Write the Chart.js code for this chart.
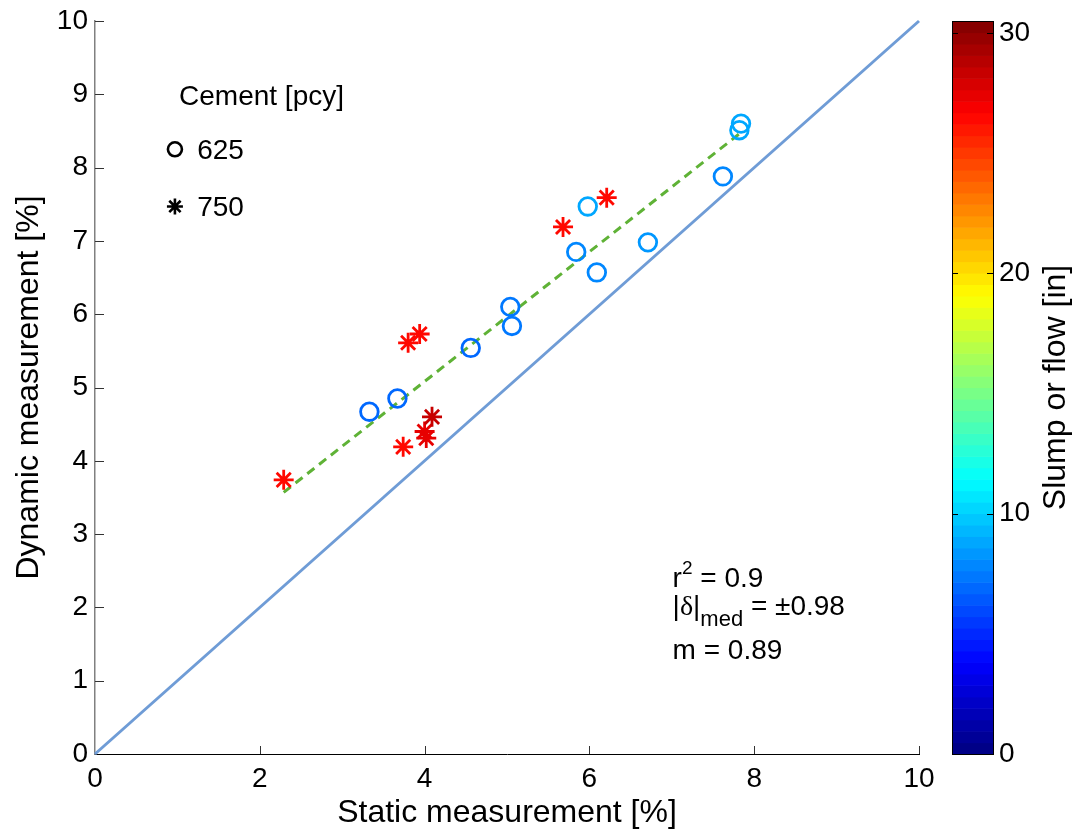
<!DOCTYPE html>
<html>
<head>
<meta charset="utf-8">
<script src="https://cdn.jsdelivr.net/npm/chart.js@4.4.0/dist/chart.umd.min.js"></script>
<style>
  html, body { margin: 0; padding: 0; background: #fff; }
  canvas { display: block; }
</style>
</head>
<body>
<canvas id="chart" width="1078" height="833"></canvas>
<script>
// cement 625 pcy (circles)
const staticC = [3.33, 3.67, 4.56, 5.04, 5.06, 5.84, 6.09, 5.98, 6.71, 7.62, 7.82, 7.84];
const dynamicC = [4.67, 4.85, 5.54, 6.10, 5.84, 6.85, 6.57, 7.47, 6.98, 7.88, 8.51, 8.60];
const slumpC = [7, 7, 7, 7.2, 7.2, 8, 8, 9, 8.3, 7.8, 8.7, 8.7];

// cement 750 pcy (stars)
const staticS = [2.29, 3.74, 4.00, 4.02, 4.09, 3.80, 3.94, 5.68, 6.21];
const dynamicS = [3.74, 4.19, 4.40, 4.31, 4.60, 5.61, 5.73, 7.19, 7.59];
const slumpS = [26.5, 26.5, 27.5, 27.5, 28.5, 26.5, 26.5, 26.5, 26.5];

// fit line and 1:1 line
const fitX = [2.29, 7.83];
const fitY = [3.57, 8.47];
const unity = [0, 10];

const xTicks = [0, 2, 4, 6, 8, 10];
const yTicks = [0, 1, 2, 3, 4, 5, 6, 7, 8, 9, 10];
const cbTicks = [0, 10, 20, 30];
const cbMax = 30.5;

const FONT = "Arial, 'Liberation Sans', Helvetica, sans-serif";

// matlab jet(64)
function jet(t) {
  const c = v => Math.round(255 * Math.max(0, Math.min(1, v)));
  return 'rgb(' + c(1.5 - Math.abs(4 * t - 3)) + ',' + c(1.5 - Math.abs(4 * t - 2)) + ',' + c(1.5 - Math.abs(4 * t - 1)) + ')';
}
function slumpColor(v) {
  const k = Math.min(63, Math.floor(v / cbMax * 64));
  return jet((k + 0.5) / 64);
}

const extras = {
  id: 'extras',
  afterDraw(chart) {
    const { ctx, scales: { x, y, cb } } = chart;
    const area = chart.chartArea;
    ctx.save();

    // inward tick marks
    ctx.strokeStyle = '#333';
    ctx.lineWidth = 1;
    xTicks.forEach(v => {
      if (v === 0) return;
      const px = Math.round(x.getPixelForValue(v)) + 0.5;
      ctx.beginPath(); ctx.moveTo(px, area.bottom); ctx.lineTo(px, area.bottom - 8); ctx.stroke();
    });
    yTicks.forEach(v => {
      if (v === 0) return;
      const py = Math.round(y.getPixelForValue(v)) + 0.5;
      ctx.beginPath(); ctx.moveTo(area.left, py); ctx.lineTo(area.left + 9, py); ctx.stroke();
    });

    // colorbar
    const bl = area.right + 33, br = area.right + 74;
    for (let k = 0; k < 64; k++) {
      const y0 = cb.getPixelForValue(k * cbMax / 64);
      const y1 = cb.getPixelForValue((k + 1) * cbMax / 64);
      ctx.fillStyle = jet((k + 0.5) / 64);
      ctx.fillRect(bl, y1, br - bl, y0 - y1 + 0.6);
    }
    ctx.strokeStyle = '#000';
    ctx.lineWidth = 1;
    const ct = cb.getPixelForValue(cbMax), cbt = cb.getPixelForValue(0);
    ctx.strokeRect(bl + 0.5, Math.round(ct) + 0.5, br - bl, Math.round(cbt - ct));
    cbTicks.forEach(v => {
      const py = Math.round(cb.getPixelForValue(v)) + 0.5;
      ctx.beginPath();
      ctx.moveTo(bl, py); ctx.lineTo(bl + 6, py);
      ctx.moveTo(br, py); ctx.lineTo(br - 6, py);
      ctx.stroke();
    });
    ctx.fillStyle = '#000';
    ctx.save();
    ctx.translate(1056, (ct + cbt) / 2);
    ctx.rotate(-Math.PI / 2);
    ctx.font = '32px ' + FONT;
    ctx.textAlign = 'center';
    ctx.textBaseline = 'middle';
    ctx.fillText('Slump or flow [in]', 0, 0);
    ctx.restore();

    // legend
    ctx.font = '28px ' + FONT;
    ctx.textAlign = 'left';
    ctx.textBaseline = 'alphabetic';
    ctx.fillText('Cement [pcy]', x.getPixelForValue(1.02), y.getPixelForValue(8.86));
    ctx.fillText('625', x.getPixelForValue(1.24), y.getPixelForValue(8.12));
    ctx.fillText('750', x.getPixelForValue(1.24), y.getPixelForValue(7.34));
    ctx.strokeStyle = '#000';
    ctx.lineWidth = 2.6;
    const cx = x.getPixelForValue(0.97), cy = y.getPixelForValue(8.25);
    ctx.beginPath(); ctx.arc(cx, cy, 7, 0, Math.PI * 2); ctx.stroke();
    const sx = x.getPixelForValue(0.97), sy = y.getPixelForValue(7.47);
    ctx.lineWidth = 2.6;
    ctx.beginPath();
    for (let a = 0; a < 4; a++) {
      const ang = a * Math.PI / 4;
      ctx.moveTo(sx - 8 * Math.cos(ang), sy - 8 * Math.sin(ang));
      ctx.lineTo(sx + 8 * Math.cos(ang), sy + 8 * Math.sin(ang));
    }
    ctx.stroke();

    // fit statistics
    const ax = x.getPixelForValue(7.01);
    const b1 = y.getPixelForValue(2.28), b2 = y.getPixelForValue(1.90), b3 = y.getPixelForValue(1.30);
    let px = ax;
    ctx.font = '28px ' + FONT;
    ctx.fillText('r', px, b1); px += ctx.measureText('r').width;
    ctx.font = '19px ' + FONT;
    ctx.fillText('2', px, b1 - 13); px += ctx.measureText('2').width;
    ctx.font = '28px ' + FONT;
    ctx.fillText(' = 0.9', px, b1);

    px = ax;
    ctx.fillText('|', px, b2); px += ctx.measureText('|').width;
    ctx.font = "28px 'Liberation Serif', 'Times New Roman', serif";
    ctx.fillText('\u03b4', px, b2); px += ctx.measureText('\u03b4').width;
    ctx.font = '28px ' + FONT;
    ctx.fillText('|', px, b2); px += ctx.measureText('|').width;
    ctx.font = '22px ' + FONT;
    ctx.fillText('med', px, b2 + 11); px += ctx.measureText('med').width;
    ctx.font = '28px ' + FONT;
    ctx.fillText(' = \u00b10.98', px, b2);

    ctx.fillText('m = 0.89', ax, b3);
    ctx.restore();
  }
};

const circlePts = staticC.map((v, i) => ({ x: v, y: dynamicC[i] }));
const starPts = staticS.map((v, i) => ({ x: v, y: dynamicS[i] }));
const fitPts = fitX.map((v, i) => ({ x: v, y: fitY[i] }));
const unityPts = unity.map(v => ({ x: v, y: v }));

new Chart(document.getElementById('chart'), {
  type: 'scatter',
  data: {
    datasets: [
      {
        label: '625',
        data: circlePts,
        pointStyle: 'circle',
        pointRadius: 8.8,
        pointBorderWidth: 2.8,
        pointBorderColor: slumpC.map(slumpColor),
        pointBackgroundColor: 'rgba(0,0,0,0)',
        order: 1
      },
      {
        label: '750',
        data: starPts,
        pointStyle: 'star',
        pointRadius: 10,
        pointBorderWidth: 2.8,
        pointBorderColor: slumpS.map(slumpColor),
        pointBackgroundColor: 'rgba(0,0,0,0)',
        order: 2
      },
      {
        label: 'fit',
        data: fitPts,
        showLine: true,
        pointRadius: 0,
        borderColor: '#5fb236',
        borderWidth: 3,
        borderDash: [9, 6],
        order: 3
      },
      {
        label: '1:1',
        data: unityPts,
        showLine: true,
        pointRadius: 0,
        borderColor: '#6f9cd6',
        borderWidth: 3,
        clip: false,
        order: 4
      }
    ]
  },
  options: {
    responsive: false,
    animation: false,
    layout: { padding: { top: 21, left: 0, right: 0, bottom: 0 } },
    plugins: { legend: { display: false }, tooltip: { enabled: false } },
    scales: {
      x: {
        type: 'linear',
        min: 0, max: 10,
        afterBuildTicks: s => { s.ticks = xTicks.map(v => ({ value: v })); },
        afterFit: s => { s.height = 79; },
        grid: { display: true, drawOnChartArea: false, drawTicks: false },
        border: { display: true, color: '#000', width: 1 },
        ticks: { color: '#000', font: { size: 28, family: FONT }, padding: 8, maxRotation: 0 },
        title: { display: true, text: 'Static measurement [%]', color: '#000', font: { size: 32, family: FONT }, padding: { top: 0, bottom: 1 } }
      },
      y: {
        type: 'linear',
        min: 0, max: 10,
        afterBuildTicks: s => { s.ticks = yTicks.map(v => ({ value: v })); },
        afterFit: s => { s.width = 95; s.paddingTop = 0; s.paddingBottom = 0; },
        grid: { display: true, drawOnChartArea: false, drawTicks: false },
        border: { display: true, color: '#808080', width: 1.5 },
        ticks: { color: '#000', font: { size: 28, family: FONT }, padding: 7 },
        title: { display: true, text: 'Dynamic measurement [%]', color: '#000', font: { size: 32, family: FONT }, padding: { top: 10, bottom: 0 } }
      },
      cb: {
        type: 'linear',
        position: 'right',
        min: 0, max: cbMax,
        afterBuildTicks: s => { s.ticks = cbTicks.map(v => ({ value: v })); },
        afterFit: s => { s.width = 159; s.paddingTop = 0; s.paddingBottom = 0; },
        grid: { display: false, drawTicks: false },
        border: { display: false },
        ticks: { color: '#000', font: { size: 28, family: FONT }, padding: 80 }
      }
    }
  },
  plugins: [extras]
});
</script>
</body>
</html>
